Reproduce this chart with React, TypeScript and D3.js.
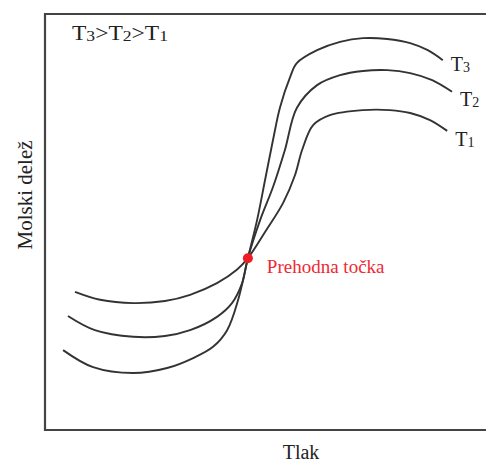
import React from "react";
import * as d3 from "d3";

// Pressure (x, 0-100) and mole fraction (y, 0-100) for each temperature
const t1X = [6.8, 12.5, 20.0, 27.2, 32.9, 39.0, 43.5, 46.0, 49.9, 54.0, 56.7, 58.3, 60.8, 64.6, 72.1, 78.2, 82.8, 87.3, 91.2];
const t1Y = [33.2, 31.3, 30.5, 31.0, 32.5, 35.3, 38.5, 41.3, 47.6, 54.6, 61.3, 67.3, 73.3, 75.7, 76.9, 76.9, 76.2, 74.5, 71.9];

const t2X = [5.2, 11.3, 20.0, 27.2, 32.9, 39.0, 42.4, 44.7, 46.0, 48.8, 51.7, 54.4, 57.1, 61.7, 66.9, 72.1, 77.6, 82.8, 87.8, 92.3];
const t2Y = [27.4, 24.0, 22.4, 22.6, 24.0, 27.2, 30.5, 35.3, 41.3, 50.5, 58.4, 67.3, 77.4, 82.9, 85.3, 86.3, 86.5, 85.8, 84.1, 81.3];

const t3X = [4.1, 10.9, 20.0, 27.7, 33.6, 38.1, 41.3, 43.8, 46.0, 48.1, 49.9, 51.7, 53.3, 55.6, 57.1, 61.7, 66.9, 72.1, 77.6, 82.8, 86.8, 90.2];
const t3Y = [19.2, 15.1, 13.7, 14.9, 17.3, 20.0, 24.0, 31.3, 41.3, 50.5, 60.1, 69.7, 77.6, 84.9, 88.2, 91.3, 93.3, 94.2, 94.0, 93.0, 91.3, 88.9];

const transitionPoint = [46.0, 41.3];
const seriesNames = ["1", "2", "3"];
const transitionLabel = "Prehodna točka";
const xLabel = "Tlak";
const yLabel = "Molski delež";

const W = 486;
const H = 466;
const left = 45, right = 486, top = 14, bottom = 430;

export default function App() {
  const x = d3.scaleLinear().domain([0, 100]).range([left, right]);
  const y = d3.scaleLinear().domain([0, 100]).range([bottom, top]);
  const line = d3
    .line<[number, number]>()
    .x((d) => x(d[0]))
    .y((d) => y(d[1]))
    .curve(d3.curveCatmullRom.alpha(0.5));

  const series = [
    { xs: t1X, ys: t1Y, name: seriesNames[0], dy: 15 },
    { xs: t2X, ys: t2Y, name: seriesNames[1], dy: 14 },
    { xs: t3X, ys: t3Y, name: seriesNames[2], dy: 11 },
  ];

  const font = "'Liberation Serif', 'Times New Roman', serif";

  return (
    <svg
      width={W}
      height={H}
      style={{ position: "absolute", left: 0, top: 0, display: "block", background: "#fff" }}
      fontFamily={font}
    >
      {/* frame */}
      <g stroke="#444" strokeWidth={2.2} fill="none">
        <line x1={left} y1={top} x2={right} y2={top} />
        <line x1={left} y1={top - 1} x2={left} y2={bottom + 1} />
        <line x1={left} y1={bottom} x2={right} y2={bottom} />
      </g>

      {series.map((s) => {
        const pts = s.xs.map((v, i) => [v, s.ys[i]] as [number, number]);
        const last = pts[pts.length - 1];
        return (
          <g key={s.name}>
            <path d={line(pts) || ""} fill="none" stroke="#333" strokeWidth={1.9} />
            <text x={x(last[0]) + 8} y={y(last[1]) + s.dy} fontSize={20} fill="#222">
              T<tspan fontSize={14} dy={1}>{s.name}</tspan>
            </text>
          </g>
        );
      })}

      <circle cx={x(transitionPoint[0])} cy={y(transitionPoint[1])} r={5} fill="#ee1c25" />
      <text x={x(transitionPoint[0]) + 19} y={y(transitionPoint[1]) + 15} fontSize={19} fill="#ee2a33">
        {transitionLabel}
      </text>

      <text x={72} y={40} fontSize={20} fill="#222" textLength={96} lengthAdjust="spacingAndGlyphs">
        T<tspan fontSize={15} dy={1}>3</tspan>
        <tspan dy={-1}>&gt;T</tspan>
        <tspan fontSize={15} dy={1}>2</tspan>
        <tspan dy={-1}>&gt;T</tspan>
        <tspan fontSize={15} dy={1}>1</tspan>
      </text>

      <text x={301} y={459} fontSize={20} textAnchor="middle" fill="#222">
        {xLabel}
      </text>
      <text
        transform={`translate(32,195) rotate(-90)`}
        fontSize={21}
        textAnchor="middle"
        fill="#222"
      >
        {yLabel}
      </text>
    </svg>
  );
}
